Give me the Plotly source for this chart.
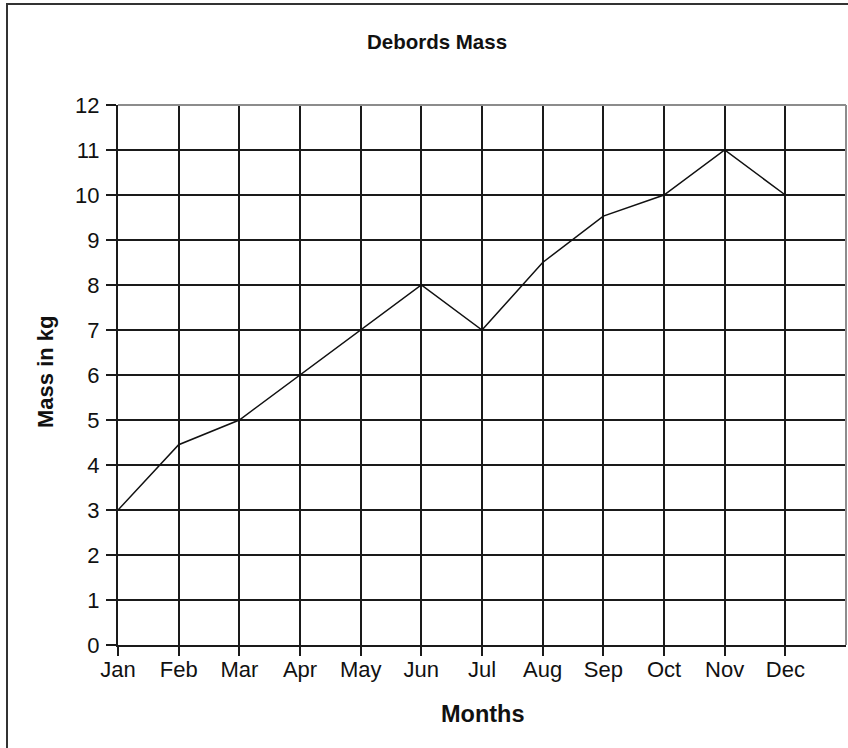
import plotly.graph_objects as go

months = ["Jan", "Feb", "Mar", "Apr", "May", "Jun", "Jul", "Aug", "Sep", "Oct", "Nov", "Dec"]
mass = [3, 4.45, 5, 6, 7, 8, 7, 8.5, 9.53, 10, 11, 10]
y_ticks = list(range(0, 13))

W, H = 848, 748
L, R, T, B = 118, 2, 105, 103
pw, ph = W - L - R, H - T - B

def px_x(p):
    return (p - L) / pw

def px_y(p):
    return (H - B - p) / ph

FONT = "Liberation Sans, Arial, sans-serif"

fig = go.Figure()
fig.add_trace(go.Scatter(
    x=list(range(len(months))), y=mass, mode="lines",
    line=dict(color="#111111", width=1.5), showlegend=False,
))

fig.update_layout(
    width=W, height=H,
    margin=dict(l=L, r=R, t=T, b=B),
    paper_bgcolor="white", plot_bgcolor="white",
    font=dict(family=FONT, size=22, color="#111111"),
    xaxis=dict(
        range=[0, 12], tickmode="array",
        tickvals=list(range(len(months))), ticktext=months,
        showgrid=True, gridcolor="#1a1a1a", gridwidth=2,
        showline=True, linecolor="#1a1a1a", linewidth=2,
        ticks="outside", ticklen=9, tickwidth=2, tickcolor="#1a1a1a",
        tickfont=dict(family=FONT, size=22, color="#111111"),
        ticklabelstandoff=-5,
        zeroline=False, fixedrange=True,
    ),
    yaxis=dict(
        range=[0, 12], tickmode="array", tickvals=y_ticks,
        ticktext=[str(v) for v in y_ticks],
        showgrid=True, gridcolor="#1a1a1a", gridwidth=2,
        showline=True, linecolor="#1a1a1a", linewidth=2,
        ticks="outside", ticklen=10, tickwidth=2, tickcolor="#1a1a1a",
        tickfont=dict(family=FONT, size=22, color="#111111"),
        ticklabelstandoff=2,
        zeroline=False, fixedrange=True,
    ),
    title=dict(
        text="<b>Debords Mass</b>", x=437 / W, xref="container", xanchor="center",
        y=1 - 42 / H, yref="container", yanchor="middle",
        font=dict(family=FONT, size=20.5, color="#111111"),
    ),
    annotations=[
        dict(text="<b>Mass in kg</b>", textangle=-90, xref="paper", yref="paper",
             x=px_x(45), y=px_y(372), xanchor="center", yanchor="middle",
             showarrow=False, font=dict(family=FONT, size=22, color="#111111")),
        dict(text="<b>Months</b>", xref="paper", yref="paper",
             x=px_x(483), y=px_y(714), xanchor="center", yanchor="middle",
             showarrow=False, font=dict(family=FONT, size=23.5, color="#111111")),
    ],
    shapes=[
        # plot-area border (top and right, gray)
        dict(type="line", xref="paper", yref="paper", x0=0, x1=1, y0=1, y1=1,
             line=dict(color="#8c8c8c", width=2), layer="above"),
        dict(type="line", xref="paper", yref="paper", x0=1, x1=1, y0=0, y1=1,
             line=dict(color="#8c8c8c", width=2), layer="above"),
        # outer chart border
        dict(type="rect", xref="paper", yref="paper",
             x0=px_x(7), x1=px_x(900), y0=px_y(800), y1=px_y(4),
             line=dict(color="#333333", width=2), fillcolor="rgba(0,0,0,0)", layer="above"),
    ],
)

fig.write_html(
    "out.html",
    config={"displayModeBar": False, "staticPlot": True},
    post_script="document.body.style.margin='0';document.body.style.overflow='hidden';",
)
